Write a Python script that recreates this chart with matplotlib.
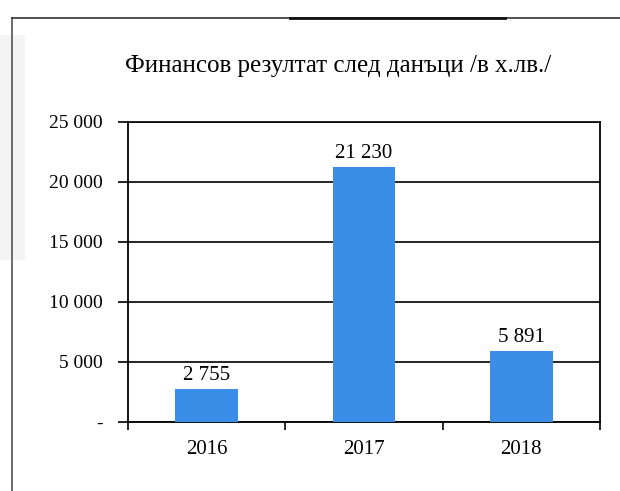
import matplotlib
matplotlib.use("Agg")
import matplotlib.pyplot as plt
from matplotlib.lines import Line2D
from matplotlib.patches import Rectangle
from matplotlib.ticker import FixedLocator, FuncFormatter

years = ["2016", "2017", "2018"]
values = [2755, 21230, 5891]
y_ticks = [0, 5000, 10000, 15000, 20000, 25000]
title = "Финансов резултат след данъци /в х.лв./"

plt.rcParams["font.family"] = ["Liberation Serif", "DejaVu Serif"]

def thousands(v, _pos=None):
    if v == 0:
        return "-"
    return f"{int(v):,}".replace(",", " ")

fig = plt.figure(figsize=(6.2, 4.91), dpi=100)
fig.patch.set_facecolor("white")

# Page frame around the chart
fig.add_artist(Rectangle((0, 1 - 260 / 491), 25 / 620, 225 / 491,
                         transform=fig.transFigure, facecolor="#f4f4f4",
                         edgecolor="none", zorder=0))
fig.add_artist(Line2D([12 / 620, 12 / 620], [0, 1 - 18 / 491],
                      transform=fig.transFigure, color="#555555", lw=1.2))
fig.add_artist(Line2D([12 / 620, 1], [1 - 18 / 491, 1 - 18 / 491],
                      transform=fig.transFigure, color="#333333", lw=1.2))
fig.add_artist(Line2D([290 / 620, 505 / 620], [1 - 18 / 491, 1 - 18 / 491],
                      transform=fig.transFigure, color="#111111", lw=2.0))

ax = fig.add_axes([128 / 620, 1 - 422 / 491, 472 / 620, 300 / 491])
x = list(range(len(years)))
bars = ax.bar(x, values, width=0.4, color="#3a8ee8", zorder=3)

ax.set_xlim(-0.5, len(years) - 0.5)
ax.set_ylim(0, 25000)
ax.yaxis.set_major_locator(FixedLocator(y_ticks))
ax.yaxis.set_major_formatter(FuncFormatter(thousands))
ax.grid(axis="y", color="black", lw=1.2, zorder=1)

ax.set_xticks(x)
ax.set_xticklabels(years)
ax.tick_params(axis="x", length=0, pad=13, labelsize=15)
ax.set_xticks([-0.5, 0.5, 1.5, 2.5], minor=True)
ax.tick_params(axis="x", which="minor", length=6, width=1.2, direction="out")
ax.tick_params(axis="y", length=7, width=1.2, direction="out", pad=11, labelsize=14)

for side in ["left", "right", "bottom"]:
    ax.spines[side].set_linewidth(1.3)
ax.spines["top"].set_linewidth(1.2)

for rect, v in zip(bars, values):
    ax.annotate(thousands(v), (rect.get_x() + rect.get_width() / 2, v),
                xytext=(0, 3), textcoords="offset points",
                ha="center", va="bottom", fontsize=15)

fig.text(338 / 620, 1 - 66 / 491, title, ha="center", va="center", fontsize=18)

fig.savefig("out.png", dpi=100)
